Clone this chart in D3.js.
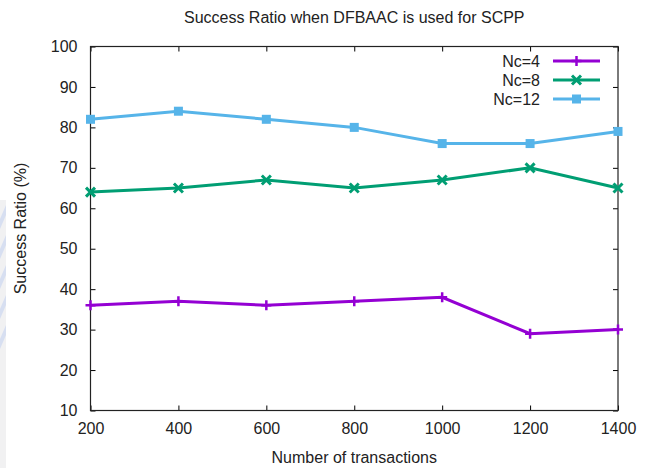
<!DOCTYPE html>
<html><head><meta charset="utf-8">
<script src="https://cdn.jsdelivr.net/npm/d3@7/dist/d3.min.js"></script>
<style>html,body{margin:0;padding:0;background:#fff;}svg{display:block;font-family:"Liberation Sans",Arial,sans-serif;}</style>
</head><body>
<script>
const transactions = [200, 400, 600, 800, 1000, 1200, 1400];
const nc4 = [36, 37, 36, 37, 38, 29, 30];
const nc8 = [64, 65, 67, 65, 67, 70, 65];
const nc12 = [82, 84, 82, 80, 76, 76, 79];
const seriesNames = ["Nc=4", "Nc=8", "Nc=12"];
const seriesColors = ["#9400d3", "#009e73", "#56b4e9"];
const yTicks = [10, 20, 30, 40, 50, 60, 70, 80, 90, 100];

const W = 651, H = 468;
const m = {l: 90.5, r: 651 - 618, t: 46.5, b: 468 - 410.5};
const FS = 16;
const svg = d3.select("body").append("svg").attr("width", W).attr("height", H);

// faint watermark on the left edge
const wm = svg.append("g").attr("opacity", 0.35);
wm.append("rect").attr("x", 0).attr("y", 200).attr("width", 6).attr("height", 268).attr("fill", "#d8d8dc");
const stripeYs = [205, 235, 265, 295, 325];
stripeYs.forEach(y => wm.append("path").attr("d", `M0,${y+14} L6,${y} L6,${y+10} L0,${y+24} Z`).attr("fill", "#8fa4d8"));

const x = d3.scaleLinear().domain([200, 1400]).range([m.l, W - m.r]);
const y = d3.scaleLinear().domain([10, 100]).range([H - m.b, m.t]);

const tickLen = 5;
const xAxis = d3.axisBottom(x).tickValues(transactions).tickSize(-tickLen).tickPadding(12).tickFormat(d3.format("d"));
const gx = svg.append("g").attr("transform", `translate(0,${H - m.b})`).call(xAxis);
const gxt = svg.append("g").attr("transform", `translate(0,${m.t})`).call(d3.axisTop(x).tickValues(transactions).tickSize(-tickLen).tickFormat(""));
const gy = svg.append("g").attr("transform", `translate(${m.l},0)`).call(d3.axisLeft(y).tickValues(yTicks).tickSize(-tickLen).tickPadding(13));
const gyr = svg.append("g").attr("transform", `translate(${W - m.r},0)`).call(d3.axisRight(y).tickValues(yTicks).tickSize(-tickLen).tickFormat(""));
[gx, gxt, gy, gyr].forEach(g => {
  g.attr("font-size", FS).attr("font-family", "Liberation Sans, Arial, sans-serif");
  g.select(".domain").remove();
  g.selectAll(".tick line").attr("stroke", "#000").attr("stroke-width", 1);
  g.selectAll("text").attr("fill", "#222");
});
svg.append("rect").attr("x", m.l).attr("y", m.t).attr("width", W - m.r - m.l).attr("height", H - m.b - m.t)
  .attr("fill", "none").attr("stroke", "#222").attr("stroke-width", 1.2);

// titles
svg.append("text").attr("x", (m.l + W - m.r) / 2).attr("y", 23).attr("text-anchor", "middle")
  .attr("font-size", FS).attr("fill", "#222").text("Success Ratio when DFBAAC is used for SCPP");
svg.append("text").attr("x", (m.l + W - m.r) / 2).attr("y", 463).attr("text-anchor", "middle")
  .attr("font-size", FS).attr("fill", "#222").text("Number of transactions");
svg.append("text").attr("transform", `translate(26,${(m.t + H - m.b) / 2}) rotate(-90)`).attr("text-anchor", "middle")
  .attr("font-size", FS).attr("fill", "#222").text("Success Ratio (%)");

const allSeries = [nc4, nc8, nc12];
function marker(g, type, cx, cy, color) {
  if (type === 0) {
    g.append("path").attr("d", `M${cx-5},${cy} L${cx+5},${cy} M${cx},${cy-5} L${cx},${cy+5}`)
      .attr("stroke", color).attr("stroke-width", 2.5).attr("fill", "none");
  } else if (type === 1) {
    g.append("path").attr("d", `M${cx-4.5},${cy-4.5} L${cx+4.5},${cy+4.5} M${cx-4.5},${cy+4.5} L${cx+4.5},${cy-4.5}`)
      .attr("stroke", color).attr("stroke-width", 3).attr("fill", "none");
  } else {
    g.append("rect").attr("x", cx - 4.5).attr("y", cy - 4.5).attr("width", 9).attr("height", 9).attr("fill", color);
  }
}
const line = d3.line().x((d, i) => x(transactions[i])).y(d => y(d));
allSeries.forEach((vals, si) => {
  const g = svg.append("g");
  g.append("path").datum(vals).attr("d", line).attr("fill", "none")
    .attr("stroke", seriesColors[si]).attr("stroke-width", 3);
  vals.forEach((v, i) => marker(g, si, x(transactions[i]), y(v), seriesColors[si]));
});

// legend
const legY = [61, 80, 99];
seriesNames.forEach((n, i) => {
  const g = svg.append("g");
  g.append("text").attr("x", 540).attr("y", legY[i] + 6).attr("text-anchor", "end")
    .attr("font-size", FS).attr("fill", "#222").text(n);
  g.append("line").attr("x1", 553).attr("x2", 600).attr("y1", legY[i]).attr("y2", legY[i])
    .attr("stroke", seriesColors[i]).attr("stroke-width", 3);
  marker(g, i, 576.5, legY[i], seriesColors[i]);
});
</script>
</body></html>
